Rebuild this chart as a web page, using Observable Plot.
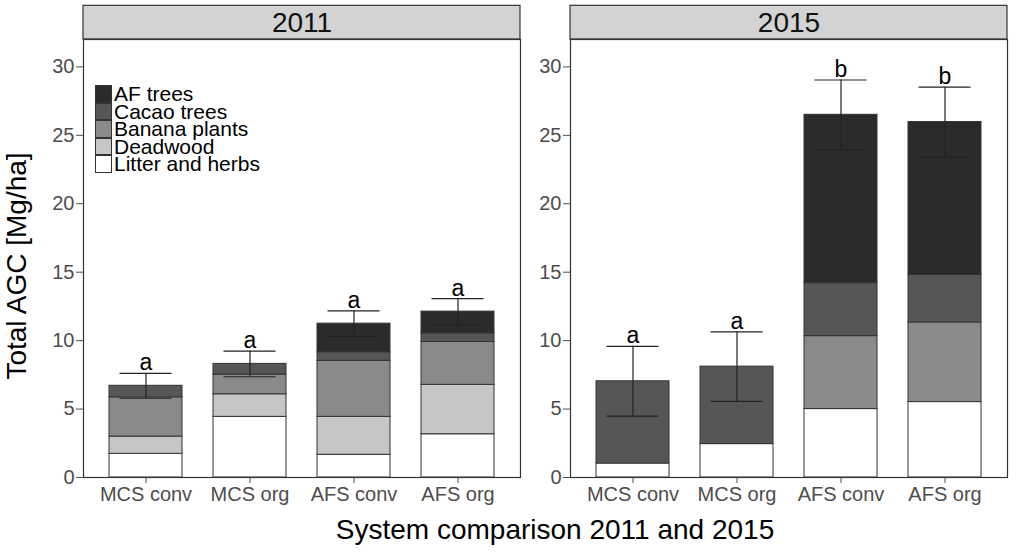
<!DOCTYPE html>
<html>
<head>
<meta charset="utf-8">
<script src="https://cdn.jsdelivr.net/npm/d3@7"></script>
<script src="https://cdn.jsdelivr.net/npm/@observablehq/plot@0.6"></script>
<style>
  html, body { margin: 0; padding: 0; background: #fff; }
  #wrap { position: relative; width: 1019px; height: 552px; font-family: "Liberation Sans", Arial, sans-serif; overflow: hidden; }
  #wrap svg { display: block; }
  .ytitle { position: absolute; left: 17px; top: 266px; transform: translate(-50%, -50%) rotate(-90deg); font-size: 28px; white-space: nowrap; color: #000; }
  .xtitle { position: absolute; left: 555px; top: 514px; transform: translateX(-50%); font-size: 28px; white-space: nowrap; color: #000; }
  .legend { position: absolute; left: 95px; top: 85px; font-size: 21px; color: #000; }
  .legend .row { display: flex; align-items: center; height: 17.6px; line-height: 17.6px; }
  .legend .key { width: 15px; height: 15.6px; border: 1px solid #333; margin-right: 2px; box-sizing: content-box; }
</style>
</head>
<body>
<div id="wrap"></div>
<script>
// ---- data ----
const years = ["2011", "2015"];
const systems = ["MCS conv", "MCS org", "AFS conv", "AFS org"];
// stacking order, bottom to top
const components = ["Litter and herbs", "Deadwood", "Banana plants", "Cacao trees", "AF trees"];
const componentColors = ["#ffffff", "#c6c6c6", "#8a8a8a", "#565656", "#2b2b2b"];

const litter2011   = [1.73, 4.43, 1.66, 3.16];
const deadwood2011 = [1.26, 1.65, 2.77, 3.61];
const banana2011   = [2.87, 1.44, 4.09, 3.13];
const cacao2011    = [0.84, 0.78, 0.63, 0.63];
const afTrees2011  = [0.00, 0.00, 2.09, 1.59];

const litter2015   = [1.02, 2.44, 5.00, 5.51];
const deadwood2015 = [0.00, 0.00, 0.00, 0.00];
const banana2015   = [0.00, 0.00, 5.33, 5.82];
const cacao2015    = [6.01, 5.66, 3.87, 3.47];
const afTrees2015  = [0.00, 0.00, 12.30, 11.17];

const se2011 = [0.91, 0.94, 0.93, 0.95];
const se2015 = [2.55, 2.54, 2.54, 2.55];
const letters2011 = ["a", "a", "a", "a"];
const letters2015 = ["a", "a", "b", "b"];

const yTicks = [0, 5, 10, 15, 20, 25, 30];
const yTitle = "Total AGC [Mg/ha]";
const xTitle = "System comparison 2011 and 2015";

// ---- build tables ----
const byYear = {
  "2011": [litter2011, deadwood2011, banana2011, cacao2011, afTrees2011],
  "2015": [litter2015, deadwood2015, banana2015, cacao2015, afTrees2015]
};
const seByYear = {"2011": se2011, "2015": se2015};
const lettersByYear = {"2011": letters2011, "2015": letters2015};

const segments = [];
const totals = [];
for (const year of years) {
  systems.forEach((system, i) => {
    let total = 0;
    components.forEach((component, c) => {
      const value = byYear[year][c][i];
      total += value;
      if (value > 0) segments.push({year, system, component, value});
    });
    totals.push({year, system, total, se: seByYear[year][i], letter: lettersByYear[year][i]});
  });
}
const strips = years.map(year => ({year}));

const yMax = 32;
const stripTop = 34.46;

const chart = Plot.plot({
  width: 1019,
  height: 552,
  marginLeft: 83,
  marginRight: 11,
  marginTop: 39,
  marginBottom: 75,
  style: {fontFamily: "'Liberation Sans', Arial, sans-serif", background: "#fff"},
  fx: {domain: years, paddingInner: 0.1026, paddingOuter: 0, axis: null, label: null},
  x: {domain: systems, paddingInner: 0.3, paddingOuter: 0.25, label: null},
  y: {domain: [0, yMax], label: null},
  color: {domain: components, range: componentColors},
  marks: [
    Plot.barY(segments, {
      fx: "year", x: "system", y: "value", fill: "component",
      order: components, stroke: "#333", strokeWidth: 1
    }),
    Plot.ruleX(totals, {fx: "year", x: "system", y1: d => d.total - d.se, y2: d => d.total + d.se, stroke: "#222", strokeWidth: 1.2}),
    Plot.tickY(totals, {fx: "year", x: "system", y: d => d.total - d.se, stroke: "#222", strokeWidth: 1.2, insetLeft: 10.5, insetRight: 10.5}),
    Plot.tickY(totals, {fx: "year", x: "system", y: d => d.total + d.se, stroke: "#222", strokeWidth: 1.2, insetLeft: 10.5, insetRight: 10.5}),
    Plot.text(totals, {fx: "year", x: "system", y: d => d.total + d.se, text: "letter", lineAnchor: "bottom", dy: -3, fontSize: 23, fill: "#000"}),
    Plot.rect(strips, {fx: "year", y1: yMax, y2: stripTop, fill: "#d3d3d3", stroke: "#333", strokeWidth: 1.2}),
    Plot.text(strips, {fx: "year", y: (yMax + stripTop) / 2, text: "year", fontSize: 28, fill: "#111"}),
    Plot.frame({stroke: "#333", strokeWidth: 1.2}),
    Plot.axisY({facetAnchor: null, ticks: yTicks, tickSize: 7, tickPadding: 2, fontSize: 20, color: "#4d4d4d", label: null}),
    Plot.axisX({tickSize: 6, tickPadding: 3, fontSize: 20, color: "#4d4d4d", label: null})
  ]
});

const wrap = document.getElementById("wrap");
wrap.appendChild(chart);

const yt = document.createElement("div");
yt.className = "ytitle"; yt.textContent = yTitle; wrap.appendChild(yt);
const xt = document.createElement("div");
xt.className = "xtitle"; xt.textContent = xTitle; wrap.appendChild(xt);

const legend = document.createElement("div");
legend.className = "legend";
[...components].reverse().forEach(name => {
  const row = document.createElement("div");
  row.className = "row";
  const key = document.createElement("span");
  key.className = "key";
  key.style.background = componentColors[components.indexOf(name)];
  const label = document.createElement("span");
  label.textContent = name;
  row.appendChild(key); row.appendChild(label);
  legend.appendChild(row);
});
wrap.appendChild(legend);
</script>
</body>
</html>
